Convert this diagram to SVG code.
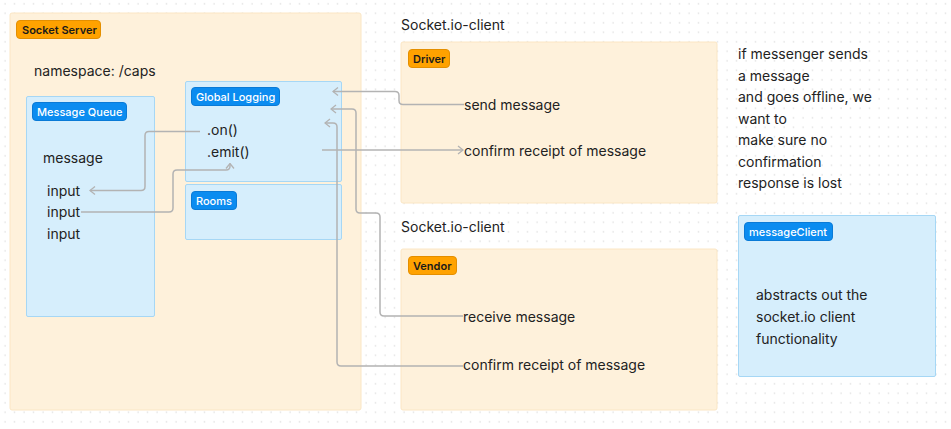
<svg xmlns="http://www.w3.org/2000/svg" width="951" height="429" viewBox="0 0 951 429">
<defs>
<pattern id="dots" width="9.5" height="9.5" patternUnits="userSpaceOnUse">
<circle cx="5" cy="3.8" r="0.6" fill="#cccccc"/>
</pattern>
<marker id="arr" viewBox="0 0 10 10" refX="9" refY="5" markerWidth="10" markerHeight="10" markerUnits="userSpaceOnUse" orient="auto">
<path d="M4,1 L9,5 L4,9" fill="none" stroke="#b3b3b3" stroke-width="1.3"/>
</marker>
<style>
text{font-family:Inter,"Noto Sans","Liberation Sans",sans-serif;fill:#222;}
.t{font-size:14px;}
.big{font-size:14px;}
.cream{fill:#fef1db;stroke:#fbe6c4;stroke-width:1;}
.blue{fill:#d6eefc;stroke:#a6d7f5;stroke-width:1;}
.otag{fill:#ffa200;stroke:#e48f00;stroke-width:1;}
.btag{fill:#0b8cf0;stroke:#0a7ad6;stroke-width:1;}
.ot{font-size:11px;font-weight:600;fill:#1a1a1a;}
.bt{font-size:11px;font-weight:500;fill:#fff;}
.c{fill:none;stroke:#b3b3b3;stroke-width:1.5;stroke-linejoin:round;}
</style>
</defs>
<rect width="951" height="429" fill="#fff"/>
<rect width="951" height="429" fill="url(#dots)"/>

<g id="socket-server">
<rect class="cream" x="10" y="13" width="351" height="397" rx="2"/>
<rect class="otag" x="16.5" y="20.5" width="84" height="18" rx="3.5"/>
<text class="ot" x="22" y="33.5">Socket Server</text>
<text class="big" x="34" y="76">namespace: /caps</text>
</g>

<g id="message-queue">
<rect class="blue" x="26.5" y="96.5" width="128" height="220" rx="1.5"/>
<rect class="btag" x="32.5" y="102.5" width="94" height="18" rx="3.5"/>
<text class="bt" x="37" y="115.5">Message Queue</text>
<text class="t" x="43" y="163">message</text>
<text class="t" x="47" y="196">input</text>
<text class="t" x="47" y="217">input</text>
<text class="t" x="47" y="239">input</text>
</g>

<g id="global-logging">
<rect class="blue" x="185.5" y="81.5" width="156" height="100" rx="1.5"/>
<rect class="btag" x="191.5" y="87.5" width="88" height="18" rx="3.5"/>
<text class="bt" x="196" y="100.5">Global Logging</text>
<text class="t" x="207" y="135">.on()</text>
<text class="t" x="207" y="157">.emit()</text>
</g>

<g id="rooms">
<rect class="blue" x="185.5" y="184.5" width="156" height="55" rx="1.5"/>
<rect class="btag" x="191.5" y="191.5" width="45" height="18" rx="3.5"/>
<text class="bt" x="196" y="204.5">Rooms</text>
</g>

<g id="driver">
<text class="big" x="401" y="30">Socket.io-client</text>
<rect class="cream" x="401" y="42" width="316" height="161" rx="2"/>
<rect class="otag" x="408.5" y="49.5" width="41" height="18" rx="3.5"/>
<text class="ot" x="413" y="62.5">Driver</text>
<text class="t" x="464" y="110">send message</text>
<text class="t" x="464" y="156">confirm receipt of message</text>
</g>

<g id="vendor">
<text class="big" x="401" y="232">Socket.io-client</text>
<rect class="cream" x="401" y="249" width="316" height="161" rx="2"/>
<rect class="otag" x="408.5" y="256.5" width="48" height="18" rx="3.5"/>
<text class="ot" x="413" y="269.5">Vendor</text>
<text class="t" x="463" y="322">receive message</text>
<text class="t" x="463" y="370">confirm receipt of message</text>
</g>

<g id="note">
<text class="t" x="738" y="59">if messenger sends</text>
<text class="t" x="738" y="80.5">a message</text>
<text class="t" x="738" y="102">and goes offline, we</text>
<text class="t" x="738" y="123.5">want to</text>
<text class="t" x="738" y="145">make sure no</text>
<text class="t" x="738" y="166.5">confirmation</text>
<text class="t" x="738" y="188">response is lost</text>
</g>

<g id="message-client">
<rect class="blue" x="738.5" y="215.5" width="197" height="161" rx="1.5"/>
<rect class="btag" x="744.5" y="222.5" width="88" height="18" rx="3.5"/>
<text class="bt" x="749" y="235.5">messageClient</text>
<text class="t" x="756" y="300">abstracts out the</text>
<text class="t" x="756" y="322">socket.io client</text>
<text class="t" x="756" y="344">functionality</text>
</g>

<g id="connectors">
<path class="c" marker-end="url(#arr)" d="M464,104.5 H403 Q399,104.5 399,100.5 V95.5 Q399,91.5 395,91.5 H333"/>
<path class="c" marker-end="url(#arr)" d="M463,316 H384 Q380,316 380,312 V217 Q380,213 376,213 H360 Q356,213 356,209 V113 Q356,109 352,109 H331"/>
<path class="c" marker-end="url(#arr)" d="M463,366 H341 Q337,366 337,362 V127 Q337,123 333,123 H325"/>
<path class="c" marker-end="url(#arr)" d="M322,150 H463"/>
<path class="c" marker-end="url(#arr)" d="M200,131.5 H149 Q145,131.5 145,135.5 V186.5 Q145,190.5 141,190.5 H90"/>
<path class="c" marker-end="url(#arr)" d="M81,212 H169 Q173,212 173,208 V174 Q173,170 177,170 H226 Q230,170 230,166 V163.5"/>
</g>
</svg>
